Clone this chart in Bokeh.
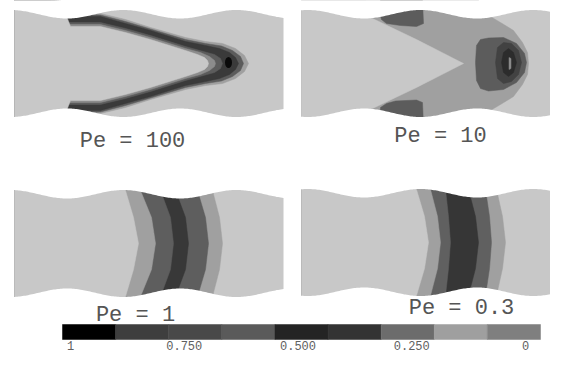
import numpy as np
from bokeh.plotting import figure
from bokeh.models import Range1d
from bokeh.core.properties import value
from bokeh.embed import file_html
from bokeh.resources import INLINE

# ---------------- data (channel coordinates: s along the channel, n across it,
# half-width of the wide section = 53.5; contour boundaries given for the upper
# half, top -> axis, and mirrored for the lower half) ----------------
PE_LABELS = ["Pe = 100", "Pe = 10", "Pe = 1", "Pe = 0.3"]

BG = "#c8c8c8"
LV1 = "#a0a0a0"
LV2 = "#5c5c5c"
LV3 = "#3a3a3a"

# Pe = 100
PE100_S = [
    [32, 44, 66, 86, 111, 136, 171, 191, 208, 221, 230, 234],
    [36, 48, 66, 86, 111, 136, 171, 191, 207, 218, 226, 229],
    [40, 52, 66, 86, 111, 136, 171, 191, 205, 215, 221, 224],
    [42, 52, 66, 86, 111, 136, 171, 189, 200, 206, 208],
    [44, 54, 86, 111, 136, 171, 186, 195, 200, 201],
    [46, 56, 86, 111, 136, 171, 183, 190, 193, 194],
]
PE100_N = [
    [63, 51, 51, 50, 44, 36, 26, 22, 20, 15, 8, 0],
    [63, 49, 49, 48.5, 42, 34.5, 24, 20, 17.5, 13, 7, 0],
    [63, 47, 47, 47, 40, 33, 22, 18, 15, 11, 6, 0],
    [63, 41, 41, 41, 35, 28, 17, 12, 9, 5, 0],
    [63, 39, 39, 33, 26, 15, 11, 7, 3, 0],
    [63, 37, 37, 31, 24, 13, 9, 6, 3, 0],
]
PE100_FILL = [LV1, LV2, LV3, LV2, "#8c8c8c", BG]
PE100_SPOT_S = [214]
PE100_SPOT_N = [1]

# Pe = 10
PE10_S = [
    [177, 182, 199, 212, 221, 226, 227],
    [64, 69, 115, 162],
]
PE10_N = [
    [63, 51, 41, 33, 21, 11, 0],
    [63, 46, 24, 0],
]
PE10_FILL = [LV1, BG]
PE10_BLOB_S = [
    [175, 179, 187, 202, 215, 223, 225, 223, 215, 202, 187, 179, 175, 174],
    [196, 202, 210, 217, 220, 217, 210, 202, 196, 194],
    [202, 207, 212, 215, 212, 207, 202, 200],
    [207.5, 209.5, 209.5, 207.5],
    [79, 121, 122, 115, 99, 85, 80, 78],
    [79, 85, 94, 115, 121, 122, 79],
]
PE10_BLOB_N = [
    [18, 24, 25.5, 26, 20, 10, 1, -9, -19, -26, -27.5, -25, -17, 1],
    [16, 21, 20, 13, 1, -11, -18, -20, -15, 1],
    [11, 15, 11, 1, -9, -13, -9, 1],
    [6, 5, -5, -6],
    [63, 63, 40, 37, 38, 40, 44, 51],
    [-44, -40, -37.5, -36.5, -39, -62, -62],
]
PE10_BLOB_FILL = [LV2, "#424242", "#2c2c2c", "#8a8a8a", LV2, LV2]

# Pe = 1
PE1_S = [
    [196, 198, 205, 208],
    [181, 183, 191, 194],
    [159, 161, 171, 174],
    [144, 146, 156, 159],
    [124, 126, 137, 141],
    [110, 111, 119, 124],
]
PE1_N = [[63, 53, 26, 0]] * 6
PE1_FILL = [LV1, "#5e5e5e", "#383838", "#5e5e5e", LV1, BG]

# Pe = 0.3
PE03_S = [
    [193, 195, 201, 204],
    [183, 184, 188, 190],
    [165, 167, 174, 177],
    [143, 144, 147, 149],
    [127, 129, 136, 139],
    [113, 115, 123, 127],
]
PE03_N = [[63, 53, 26, 0]] * 6
PE03_FILL = [LV1, "#606060", "#363636", "#606060", LV1, BG]

# colour bar
CB_COLORS = ["#000000", "#3e3e3e", "#494949", "#5a5a5a", "#242424",
             "#333333", "#6c6c6c", "#9f9f9f", "#7f7f7f"]
CB_TICKS = [1, 0.75, 0.5, 0.25, 0]
CB_TICK_TEXT = ["1", "0.750", "0.500", "0.250", "0"]

# ---------------- layout (page pixels) ----------------
PANEL_X0 = [14, 301, 14, 301]
PANEL_YC = [63, 63, 243, 242]
PANEL_WIDE_AT = [-4.0, 6.0, -4.0, 6.0]
PANEL_LEN = 269
HALF_W = 53.5
WALL_DEPTH = 8.5
WALL_PERIOD = 113.0
LABEL_X = [132, 440, 135, 461]
LABEL_Y = [141, 136, 315, 308]
CB_X0, CB_X1, CB_TOP, CB_BOT = 62, 540, 324, 339
CB_TICK_X_AT1, CB_TICK_X_AT0, CB_TICK_Y = 70, 525, 344.5

W, H = 550, 352
p = figure(width=W, height=H, x_range=Range1d(0, W), y_range=Range1d(H, 0),
           output_backend="svg", toolbar_location=None, min_border=0,
           x_axis_location=None, y_axis_location=None,
           outline_line_color=None, background_fill_color="white",
           border_fill_color="white")
p.grid.visible = False


def to_page(k, s, n):
    s = np.asarray(s, dtype=float)
    n = np.asarray(n, dtype=float)
    return list(PANEL_X0[k] + s), list(PANEL_YC[k] - n)


def level_region(s_half, n_half):
    s = list(s_half) + list(s_half[-2::-1])
    n = list(n_half) + [-v for v in n_half[-2::-1]]
    s = s + [0, 0]
    n = n + [-n_half[0], n_half[0]]
    return s, n


def draw_panel(k, curves_s, curves_n, fills):
    xs, ys = to_page(k, [0, PANEL_LEN, PANEL_LEN, 0], [HALF_W, HALF_W, -HALF_W, -HALF_W])
    p.patch(xs, ys, fill_color=BG, line_color=None)
    px, py = [], []
    for cs, cn in zip(curves_s, curves_n):
        s, n = level_region(cs, cn)
        x, y = to_page(k, s, n)
        px.append(x)
        py.append(y)
    p.patches(px, py, fill_color=fills, line_color=fills, line_width=0.5)


def draw_walls(k):
    s = np.linspace(0, PANEL_LEN, 200)
    nt = HALF_W - WALL_DEPTH * (1 - np.cos(2 * np.pi * (s - PANEL_WIDE_AT[k]) / WALL_PERIOD)) / 2
    top_s = list(s) + [PANEL_LEN + 2, PANEL_LEN + 2, -2, -2]
    top_n = list(nt) + [nt[-1], 80, 80, nt[0]]
    x, y = to_page(k, top_s, top_n)
    p.patch(x, y, fill_color="white", line_color=None)
    x, y = to_page(k, top_s, [-v for v in top_n])
    p.patch(x, y, fill_color="white", line_color=None)


draw_panel(0, PE100_S, PE100_N, PE100_FILL)
sx, sy = to_page(0, PE100_SPOT_S, PE100_SPOT_N)
p.ellipse(x=sx, y=sy, width=7, height=11, fill_color="#0a0a0a", line_color=None)

draw_panel(1, PE10_S, PE10_N, PE10_FILL)
bx, by = [], []
for bs, bn in zip(PE10_BLOB_S, PE10_BLOB_N):
    x, y = to_page(1, bs, bn)
    bx.append(x)
    by.append(y)
p.patches(bx, by, fill_color=PE10_BLOB_FILL, line_color=PE10_BLOB_FILL, line_width=0.5)

draw_panel(2, PE1_S, PE1_N, PE1_FILL)
draw_panel(3, PE03_S, PE03_N, PE03_FILL)

for k in range(4):
    draw_walls(k)

p.text(x=LABEL_X, y=LABEL_Y, text=PE_LABELS, text_font=value("Liberation Mono"),
       text_font_size="22px", text_align="center", text_baseline="middle",
       text_color="#555555")

# colour bar
nseg = len(CB_COLORS)
w = (CB_X1 - CB_X0) / nseg
lefts = [CB_X0 + i * w for i in range(nseg)]
rights = [CB_X0 + (i + 1) * w for i in range(nseg)]
p.quad(left=lefts, right=rights, top=[CB_TOP] * nseg, bottom=[CB_BOT] * nseg,
       fill_color=CB_COLORS, line_color=CB_COLORS, line_width=0.5)
tick_x = [CB_TICK_X_AT1 + (1 - v) * (CB_TICK_X_AT0 - CB_TICK_X_AT1) for v in CB_TICKS]
p.text(x=tick_x, y=[CB_TICK_Y] * len(CB_TICKS), text=CB_TICK_TEXT,
       text_font=value("Liberation Mono"), text_font_size="12px",
       text_align="center", text_baseline="middle", text_color="#606060")

open("out.html", "w").write(file_html(p, INLINE))
